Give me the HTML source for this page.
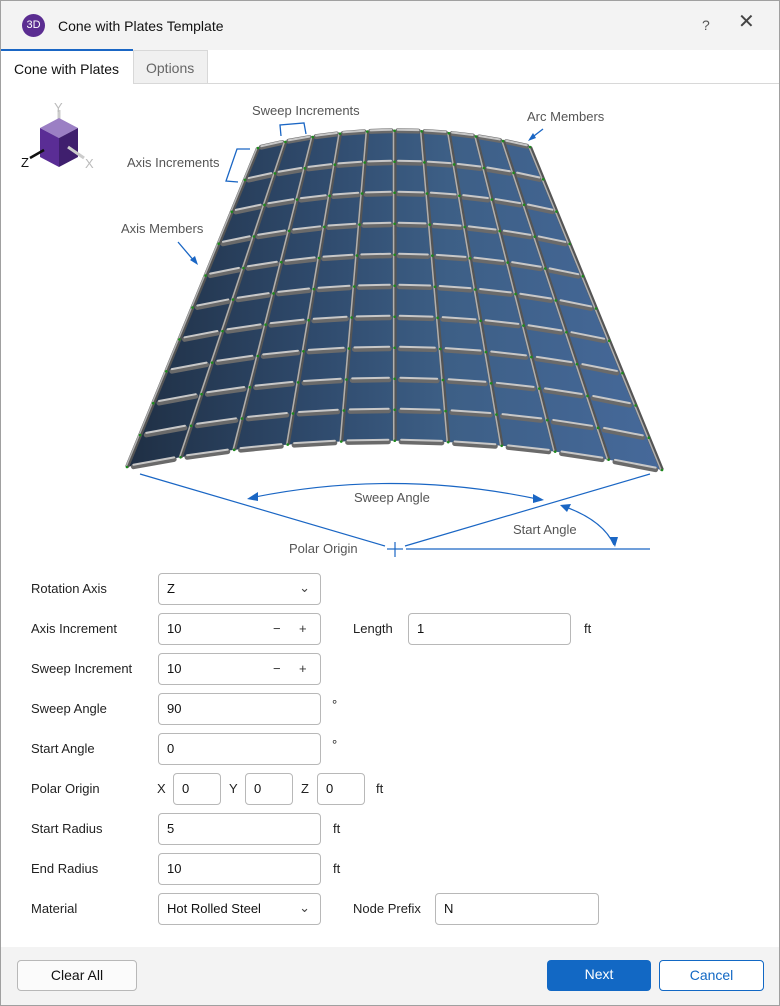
<!DOCTYPE html>
<html><head><meta charset="utf-8">
<style>
*{box-sizing:border-box;margin:0;padding:0}
body{width:780px;height:1006px;background:#fff;font-family:"Liberation Sans",sans-serif;font-size:13px;color:#222;position:relative;overflow:hidden}
.abs{position:absolute}
.win{position:absolute;left:0;top:0;width:780px;height:1006px;border:1px solid #a0a0a0}
.title{left:1px;top:1px;width:778px;height:49px;background:#f3f3f3}
.lbl{position:absolute;font-size:13px;color:#222;line-height:16px}
.inp{position:absolute;height:32px;border:1px solid #b8b8b8;border-radius:4px;background:#fff;font-size:13px;line-height:30px;padding-left:8px;color:#111}
.btn{position:absolute;height:31px;border-radius:4px;text-align:center;line-height:29px;font-size:14px}
.ann{font-family:"Liberation Sans",sans-serif;font-size:13px;fill:#555}
</style></head><body>
<div class="win"></div>
<div class="abs title"></div>
<div class="abs" style="left:22px;top:14px;width:23px;height:23px;border-radius:50%;background:#5b2d91;color:#fff;font-size:11px;text-align:center;line-height:23px">3D</div>
<div class="lbl" style="left:58px;top:18px;font-size:14px;color:#111">Cone with Plates Template</div>
<div class="lbl" style="left:702px;top:17px;font-size:14px;color:#555">?</div>
<div class="lbl" style="left:738px;top:14px;font-size:20px;color:#444">✕</div>
<!-- tabs -->
<div class="abs" style="left:1px;top:83px;width:778px;height:1px;background:#d8d8d8"></div>
<div class="abs" style="left:1px;top:49px;width:132px;height:35px;background:#fff;border-top:2px solid #1a66c4"></div>
<div class="lbl" style="left:14px;top:61px;font-size:14px;color:#111">Cone with Plates</div>
<div class="abs" style="left:133px;top:50px;width:75px;height:34px;background:#f0f0f0;border:1px solid #d8d8d8"></div>
<div class="lbl" style="left:146px;top:60px;font-size:14px;color:#666">Options</div>

<svg class="abs" style="left:0;top:84px" width="780" height="480" viewBox="0 84 780 480">
<defs>
<linearGradient id="pg" x1="0" x2="1" y1="0" y2="0">
<stop offset="0" stop-color="#1f2f44"/><stop offset="0.35" stop-color="#2f4a6c"/><stop offset="0.6" stop-color="#3d5f86"/><stop offset="1" stop-color="#46699a"/>
</linearGradient>
</defs>
<!-- axis cube -->
<g>
<line x1="59" y1="110" x2="59" y2="128" stroke="#ccc" stroke-width="3"/>
<polygon points="40,128 59,118 78,128 59,138" fill="#9b7fc4"/>
<polygon points="40,128 59,138 59,167 40,157" fill="#5a2d95"/>
<polygon points="59,138 78,128 78,157 59,167" fill="#3f1f6e"/>
<line x1="68" y1="147" x2="84" y2="158" stroke="#ccc" stroke-width="3"/>
<line x1="44" y1="150" x2="30" y2="158" stroke="#111" stroke-width="2.5"/>
<text x="54" y="112" class="ann" fill="#bbb" style="fill:#bbb">Y</text>
<text x="85" y="168" class="ann" style="fill:#bbb">X</text>
<text x="21" y="167" style="font-size:13px;fill:#111;font-family:'Liberation Sans'">Z</text>
</g>
<g id="cone"></g>
<!-- annotations -->
<text x="252" y="115" class="ann">Sweep Increments</text>
<path d="M281,136 L280,125 L304,123 L306,134" fill="none" stroke="#1a66c4" stroke-width="1.3"/>
<text x="527" y="121" class="ann">Arc Members</text>
<line x1="543" y1="129" x2="530" y2="139" stroke="#1a66c4" stroke-width="1.3"/>
<polygon points="528,141 533,133 536,138" fill="#1a66c4"/>
<text x="127" y="167" class="ann">Axis Increments</text>
<path d="M250,149 L237,149 L226,181 L238,182" fill="none" stroke="#1a66c4" stroke-width="1.3"/>
<text x="121" y="233" class="ann">Axis Members</text>
<line x1="178" y1="242" x2="195" y2="262" stroke="#1a66c4" stroke-width="1.3"/>
<polygon points="198,265 190,260 195,256" fill="#1a66c4"/>
<line x1="140" y1="474" x2="385" y2="546" stroke="#1a66c4" stroke-width="1.2"/>
<line x1="405" y1="546" x2="650" y2="474" stroke="#1a66c4" stroke-width="1.2"/>
<line x1="406" y1="549" x2="650" y2="549" stroke="#1a66c4" stroke-width="1.2"/>
<line x1="395" y1="542" x2="395" y2="557" stroke="#1a66c4" stroke-width="1.2"/>
<line x1="387" y1="549" x2="403" y2="549" stroke="#1a66c4" stroke-width="1.2"/>
<path d="M250,498 Q395,468 542,500" fill="none" stroke="#1a66c4" stroke-width="1.2"/>
<polygon points="247,499 258,492 258,501" fill="#1a66c4"/>
<polygon points="544,500 533,494 533,503" fill="#1a66c4"/>
<path d="M563,506 Q603,520 614,545" fill="none" stroke="#1a66c4" stroke-width="1.2"/>
<polygon points="560,505 571,504 567,512" fill="#1a66c4"/>
<polygon points="615,547 610,537 618,537" fill="#1a66c4"/>
<text x="354" y="502" class="ann">Sweep Angle</text>
<text x="513" y="534" class="ann">Start Angle</text>
<text x="289" y="553" class="ann">Polar Origin</text>
</svg>
<script>
(function(){
var g=document.getElementById('cone'),ns='http://www.w3.org/2000/svg';
function q(a,c,b,t){return [(1-t)*(1-t)*a[0]+2*(1-t)*t*c[0]+t*t*b[0],(1-t)*(1-t)*a[1]+2*(1-t)*t*c[1]+t*t*b[1]];}
var T0=[258,148],TC=[395,114],T1=[530,147],B0=[127,467],BC=[395,413],B1=[662,470];
function P(u,v){var t=q(T0,TC,T1,u),b=q(B0,BC,B1,u);return [t[0]+(b[0]-t[0])*v,t[1]+(b[1]-t[1])*v];}
function el(n,a){var e=document.createElementNS(ns,n);for(var k in a)e.setAttribute(k,a[k]);g.appendChild(e);return e;}
var d='M'+P(0,0);for(var i=1;i<=40;i++)d+=' L'+P(i/40,0);for(var i=40;i>=0;i--)d+=' L'+P(i/40,1);d+='Z';
el('path',{d:d,fill:'url(#pg)'});
var N=10;
for(var j=0;j<=N;j++){for(var i=0;i<N;i++){var a=P(i/N+0.012,j/N),b=P((i+1)/N-0.012,j/N);
el('line',{x1:a[0],y1:a[1]+ (j==0?0:1),x2:b[0],y2:b[1]+(j==0?0:1),stroke:'#6a6a6a','stroke-width':5,'stroke-linecap':'round'});
el('line',{x1:a[0],y1:a[1]-1,x2:b[0],y2:b[1]-1,stroke:'#c8c8c8','stroke-width':2,'stroke-linecap':'round'});}}
for(var i=0;i<=N;i++){var a=P(i/N,0),b=P(i/N,1);
el('line',{x1:a[0],y1:a[1],x2:b[0],y2:b[1],stroke:'#555','stroke-width':4});
el('line',{x1:a[0]-1,y1:a[1],x2:b[0]-1,y2:b[1],stroke:'#b0b0b0','stroke-width':1.5});
for(var j=0;j<=N;j++){var p=P(i/N,j/N);el('circle',{cx:p[0],cy:p[1],r:1.3,fill:'#1d8a1d'});}}
})();
</script>

<!-- form -->
<div class="lbl" style="left:31px;top:581px">Rotation Axis</div>
<div class="inp" style="left:158px;top:573px;width:163px">Z<span style="position:absolute;right:10px;top:-1px;color:#444">&#8964;</span></div>
<div class="lbl" style="left:31px;top:621px">Axis Increment</div>
<div class="inp" style="left:158px;top:613px;width:163px">10<span style="position:absolute;left:114px;color:#333">−</span><span style="position:absolute;left:140px;color:#333">+</span></div>
<div class="lbl" style="left:353px;top:621px">Length</div>
<div class="inp" style="left:408px;top:613px;width:163px">1</div>
<div class="lbl" style="left:584px;top:621px">ft</div>
<div class="lbl" style="left:31px;top:661px">Sweep Increment</div>
<div class="inp" style="left:158px;top:653px;width:163px">10<span style="position:absolute;left:114px;color:#333">−</span><span style="position:absolute;left:140px;color:#333">+</span></div>
<div class="lbl" style="left:31px;top:701px">Sweep Angle</div>
<div class="inp" style="left:158px;top:693px;width:163px">90</div>
<div class="lbl" style="left:332px;top:697px">°</div>
<div class="lbl" style="left:31px;top:741px">Start Angle</div>
<div class="inp" style="left:158px;top:733px;width:163px">0</div>
<div class="lbl" style="left:332px;top:737px">°</div>
<div class="lbl" style="left:31px;top:781px">Polar Origin</div>
<div class="lbl" style="left:157px;top:781px">X</div>
<div class="inp" style="left:173px;top:773px;width:48px">0</div>
<div class="lbl" style="left:229px;top:781px">Y</div>
<div class="inp" style="left:245px;top:773px;width:48px">0</div>
<div class="lbl" style="left:301px;top:781px">Z</div>
<div class="inp" style="left:317px;top:773px;width:48px">0</div>
<div class="lbl" style="left:376px;top:781px">ft</div>
<div class="lbl" style="left:31px;top:821px">Start Radius</div>
<div class="inp" style="left:158px;top:813px;width:163px">5</div>
<div class="lbl" style="left:333px;top:821px">ft</div>
<div class="lbl" style="left:31px;top:861px">End Radius</div>
<div class="inp" style="left:158px;top:853px;width:163px">10</div>
<div class="lbl" style="left:333px;top:861px">ft</div>
<div class="lbl" style="left:31px;top:901px">Material</div>
<div class="inp" style="left:158px;top:893px;width:163px">Hot Rolled Steel<span style="position:absolute;right:10px;top:-1px;color:#444">&#8964;</span></div>
<div class="lbl" style="left:353px;top:901px">Node Prefix</div>
<div class="inp" style="left:435px;top:893px;width:164px">N</div>

<!-- footer -->
<div class="abs" style="left:1px;top:947px;width:778px;height:58px;background:#f3f3f3"></div>
<div class="btn" style="left:17px;top:960px;width:120px;border:1px solid #b8b8b8;background:#fbfbfb;color:#111">Clear All</div>
<div class="btn" style="left:547px;top:960px;width:104px;background:#1268c4;color:#fff">Next</div>
<div class="btn" style="left:659px;top:960px;width:105px;border:1px solid #1268c4;background:#fff;color:#1268c4">Cancel</div>
</body></html>
